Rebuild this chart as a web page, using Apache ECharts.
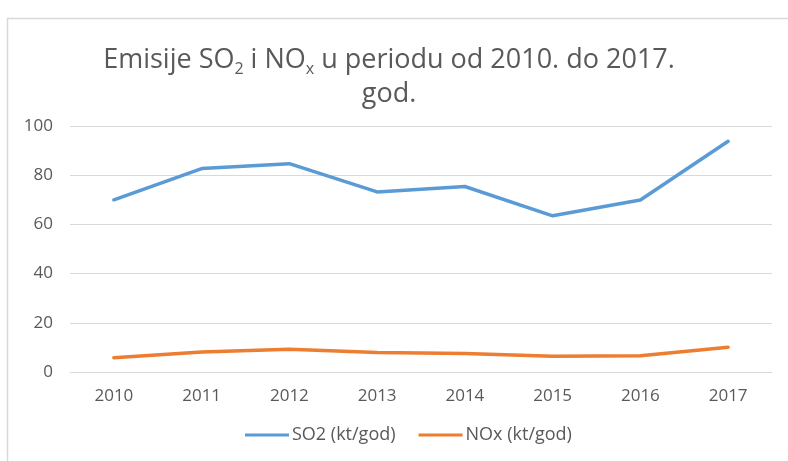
<!DOCTYPE html>
<html>
<head>
<meta charset="utf-8">
<script src="https://cdn.jsdelivr.net/npm/echarts@6/dist/echarts.min.js"></script>
<style>
  html, body { margin: 0; padding: 0; background: #fff; }
  #chart { width: 788px; height: 461px; }
</style>
</head>
<body>
<div id="chart"></div>
<script>
var years = ['2010', '2011', '2012', '2013', '2014', '2015', '2016', '2017'];
var so2 = [70.0, 82.7, 84.7, 73.2, 75.4, 63.5, 69.9, 93.8];
var nox = [5.8, 8.1, 9.2, 7.9, 7.5, 6.4, 6.6, 10.1];
var seriesNames = ['SO2 (kt/god)', 'NOx (kt/god)'];

var chart = echarts.init(document.getElementById('chart'));

var option = {
  color: ['#5b9bd5', '#ed7d31'],
  textStyle: { fontFamily: 'Open Sans' },
  title: {
    text: '{a|Emisije SO}{s|2}{a| i NO}{s|x}{a| u periodu od 2010. do 2017.}\n{a|god.}',
    left: 384,
    top: 38,
    textAlign: 'center',
    textStyle: {
      fontWeight: 'normal',
      rich: {
        a: { fontSize: 27, color: '#595959', lineHeight: 34, fontWeight: 'normal', fontFamily: 'Open Sans' },
        s: { fontSize: 16, color: '#595959', lineHeight: 34, fontWeight: 'normal', verticalAlign: 'bottom', padding: [12, 0, 0, 0], fontFamily: 'Open Sans' }
      }
    }
  },
  graphic: [{
    type: 'rect',
    shape: { x: 7.5, y: 18.5, width: 900, height: 600 },
    style: { fill: 'none', stroke: '#d9d9d9', lineWidth: 1.5 },
    silent: true
  }],
  legend: {
    data: seriesNames,
    left: 240,
    bottom: 12,
    itemWidth: 44,
    itemHeight: 3,
    itemGap: 23,
    icon: 'rect',
    textStyle: { color: '#595959', fontSize: 18, padding: [0, 0, 0, -2] }
  },
  grid: {
    left: 70,
    right: 16,
    top: 126,
    bottom: 89
  },
  xAxis: {
    type: 'category',
    data: years,
    boundaryGap: true,
    axisLine: { lineStyle: { color: '#d9d9d9', width: 1 } },
    axisTick: { show: false },
    axisLabel: { color: '#595959', fontSize: 17, margin: 16 }
  },
  yAxis: {
    type: 'value',
    min: 0,
    max: 100,
    interval: 20,
    axisLine: { show: false },
    axisTick: { show: false },
    axisLabel: { color: '#595959', fontSize: 17, margin: 17 },
    splitLine: { lineStyle: { color: '#d9d9d9', width: 1 } }
  },
  series: [
    {
      name: seriesNames[0],
      type: 'line',
      data: so2,
      symbol: 'none',
      lineStyle: { width: 3.5, cap: 'round', join: 'round' }
    },
    {
      name: seriesNames[1],
      type: 'line',
      data: nox,
      symbol: 'none',
      lineStyle: { width: 3.5, cap: 'round', join: 'round' }
    }
  ]
};

chart.setOption(option);
</script>
</body>
</html>
